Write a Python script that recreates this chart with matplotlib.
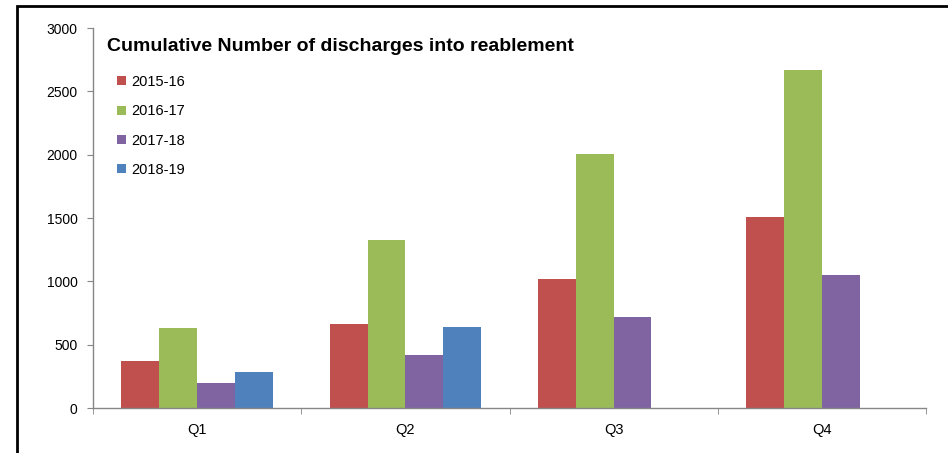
import matplotlib
matplotlib.use("Agg")
import matplotlib.pyplot as plt
from matplotlib.patches import Rectangle
import numpy as np

quarters = ["Q1", "Q2", "Q3", "Q4"]
series_names = ["2015-16", "2016-17", "2017-18", "2018-19"]
v_2015_16 = [370, 661, 1016, 1504]
v_2016_17 = [630, 1323, 2008, 2669]
v_2017_18 = [197, 417, 717, 1047]
v_2018_19 = [283, 638, None, None]
series_values = [v_2015_16, v_2016_17, v_2017_18, v_2018_19]
colors = ["#C0504D", "#9BBB59", "#8064A2", "#4F81BD"]
yticks = [0, 500, 1000, 1500, 2000, 2500, 3000]
title = "Cumulative Number of discharges into reablement"

plt.rcParams['font.family'] = ['Liberation Sans', 'DejaVu Sans']

fig = plt.figure(figsize=(9.48, 4.53), dpi=100)
ax = fig.add_axes([93/948, 45/453, (926-93)/948, (408-28)/453])

x = np.arange(len(quarters))
n = len(series_names)
w = 1/5.5
for j, (name, vals, c) in enumerate(zip(series_names, series_values, colors)):
    xs = [xi + (j - (n-1)/2)*w for xi, v in zip(x, vals) if v is not None]
    vs = [v for v in vals if v is not None]
    ax.bar(xs, vs, width=w, color=c, label=name, linewidth=0)

ax.set_xlim(-0.5, len(quarters)-0.5)
ax.set_ylim(0, 3000)
ax.set_yticks(yticks)
ax.set_xticks(x)
ax.set_xticklabels(quarters)
ax.set_xticks(np.arange(-0.5, len(quarters), 1), minor=True)
gray = "#868686"
for s in ["top", "right"]:
    ax.spines[s].set_visible(False)
for s in ["left", "bottom"]:
    ax.spines[s].set_color(gray)
    ax.spines[s].set_linewidth(1.0)
ax.tick_params(axis="y", direction="out", length=4, color=gray, pad=7, labelsize=10, labelcolor="black")
ax.tick_params(axis="x", which="major", length=0, pad=11, labelsize=10.5)
ax.tick_params(axis="x", which="minor", direction="out", length=4, color=gray)

ax.text((107-93)/833, (408-46)/380, title, transform=ax.transAxes, fontsize=14,
        fontweight="bold", va="center", ha="left")

ax.legend(loc="upper left", bbox_to_anchor=((117-93)/833, (408-75)/380), frameon=False,
          borderpad=0, borderaxespad=0, handlelength=0.6, handleheight=0.6,
          handletextpad=0.4, labelspacing=1.05, fontsize=10.5)

fig.add_artist(Rectangle((17/948, -0.2), 1.2, 0.2 + (453-6)/453, transform=fig.transFigure,
                         fill=False, edgecolor="black", linewidth=2))

fig.savefig("out.png", dpi=100)
